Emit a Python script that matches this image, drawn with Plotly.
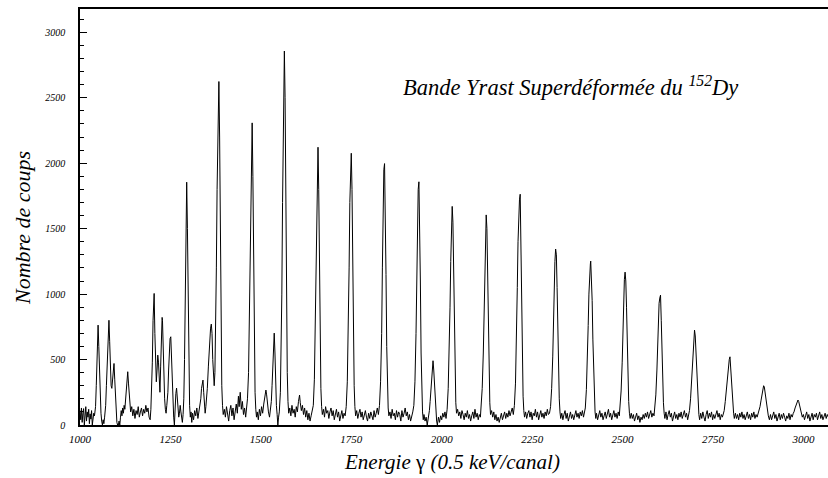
import plotly.graph_objects as go

# Spectrum: (channel, counts) pairs, by region
seg_1000_1285 = [
    (1000,110),(1002,40),(1004,130),(1006,20),(1008,90),(1010,125),(1012,0),(1014,70),(1016,140),(1018,30),
    (1020,100),(1022,60),(1024,120),(1026,10),(1028,85),(1030,45),(1032,110),(1034,0),(1036,60),(1038,90),
    (1040,70),(1043,140),(1045,300),(1047,520),(1049,700),(1050,763),(1052,600),(1054,380),(1056,200),(1058,90),
    (1060,30),(1062,0),(1064,40),(1066,10),(1068,60),(1071,150),(1073,300),(1075,480),(1077,650),(1079,780),
    (1080,800),(1082,640),(1084,400),(1086,300),(1088,280),(1090,360),(1092,430),(1094,470),(1096,350),(1098,200),
    (1100,90),(1102,20),(1104,0),(1106,0),(1108,30),(1110,0),(1112,60),(1114,110),(1116,70),(1118,130),
    (1120,90),(1122,150),(1124,120),(1126,180),(1128,260),(1130,350),(1132,407),(1134,320),(1136,220),(1138,150),
    (1140,100),(1143,140),(1146,70),(1149,120),(1152,50),(1155,110),(1158,80),(1161,140),(1164,60),(1167,100),
    (1170,130),(1173,70),(1176,120),(1179,90),(1182,150),(1185,100),(1188,130),(1191,60),(1194,40),(1196,120),
    (1198,250),(1200,480),(1202,800),(1204,980),(1205,1005),(1207,700),(1209,450),(1211,330),(1213,420),(1215,534),
    (1217,480),(1219,300),(1221,250),(1223,450),(1225,700),(1227,822),(1228,800),(1230,550),(1232,300),(1234,200),
    (1236,120),(1238,90),(1240,150),(1243,250),(1245,420),(1247,600),(1249,660),(1251,674),(1253,500),(1255,280),
    (1257,130),(1259,60),(1261,0),(1263,150),(1265,240),(1267,282),(1269,200),(1271,120),(1273,60),(1275,90),
    (1277,150),(1279,100),(1281,40),(1283,20),
]

seg_1285_1660 = [
    (1285,80),(1287,200),(1289,500),(1291,1000),(1293,1600),(1295,1855),(1297,1500),(1299,900),(1301,400),(1303,150),
    (1305,60),(1307,100),(1309,20),(1311,90),(1314,40),(1317,110),(1320,70),(1323,130),(1326,50),(1329,100),
    (1332,150),(1334,200),(1336,280),(1338,330),(1340,343),(1342,250),(1344,150),(1346,90),(1348,140),(1350,200),
    (1352,280),(1355,450),(1358,620),(1361,740),(1363,771),(1365,700),(1367,500),(1369,380),(1371,300),(1373,400),
    (1375,700),(1377,1200),(1379,1800),(1381,2300),(1383,2600),(1384,2624),(1386,2200),(1388,1400),(1390,700),(1392,300),
    (1394,150),(1396,80),(1399,120),(1402,60),(1405,140),(1408,90),(1411,30),(1414,110),(1417,150),(1420,70),
    (1423,130),(1426,40),(1429,100),(1432,160),(1435,90),(1438,220),(1440,140),(1443,250),(1446,120),(1449,180),
    (1452,80),(1455,130),(1458,60),(1460,120),(1463,200),(1466,400),(1468,800),(1470,1300),(1472,1900),(1474,2250),
    (1476,2308),(1478,1900),(1480,1200),(1482,600),(1484,250),(1486,120),(1488,60),(1490,100),(1493,40),(1496,120),
    (1499,70),(1502,140),(1505,90),(1508,160),(1511,200),(1514,267),(1516,230),(1518,150),(1521,100),(1524,60),
    (1527,130),(1529,180),(1531,300),(1533,450),(1535,620),(1537,702),(1539,550),(1541,300),(1543,150),(1545,80),
    (1547,0),(1549,60),(1551,100),(1554,250),(1556,500),(1558,1000),(1560,1700),(1562,2400),(1564,2800),(1565,2857),
    (1567,2500),(1569,1700),(1571,900),(1573,400),(1575,180),(1577,90),(1580,130),(1583,70),(1586,150),(1589,90),
    (1592,120),(1595,60),(1598,140),(1601,100),(1604,180),(1607,229),(1609,170),(1612,110),(1615,150),(1618,80),
    (1621,130),(1624,60),(1627,110),(1630,40),(1633,90),(1636,30),(1639,70),(1642,100),(1645,150),(1648,350),
    (1650,700),(1652,1200),(1654,1700),(1656,2050),(1658,2122),
]

seg_1660_2135 = [
    (1660,1800),(1662,1200),(1664,600),(1666,280),(1668,140),(1670,80),(1673,120),(1676,60),(1679,140),(1682,90),
    (1685,110),(1688,50),(1691,100),(1694,130),(1697,70),(1700,110),(1703,40),(1706,90),(1709,120),(1712,60),
    (1715,100),(1718,30),(1721,80),(1724,110),(1727,50),(1730,90),(1733,70),(1736,140),(1739,330),(1742,700),
    (1744,1200),(1746,1700),(1748,2000),(1750,2076),(1752,1800),(1754,1200),(1756,650),(1758,300),(1760,140),(1762,70),
    (1765,110),(1768,50),(1771,90),(1774,120),(1777,60),(1780,100),(1783,40),(1786,80),(1789,110),(1792,60),
    (1795,30),(1798,90),(1801,50),(1804,100),(1807,70),(1810,40),(1813,110),(1816,60),(1819,90),(1822,130),
    (1825,80),(1828,150),(1831,330),(1834,700),(1836,1200),(1838,1650),(1840,1950),(1842,1997),(1844,1700),(1846,1150),
    (1848,600),(1850,280),(1852,130),(1854,70),(1857,100),(1860,50),(1863,120),(1866,70),(1869,90),(1872,40),
    (1875,110),(1878,60),(1881,100),(1884,80),(1887,30),(1890,110),(1893,60),(1896,90),(1899,130),(1902,70),
    (1905,100),(1908,40),(1911,80),(1914,30),(1917,60),(1920,100),(1923,150),(1926,330),(1929,700),(1931,1150),
    (1933,1550),(1935,1800),(1937,1858),(1939,1600),(1941,1100),(1943,550),(1945,250),(1947,100),(1949,40),(1951,80),
    (1954,30),(1957,60),(1960,0),(1963,50),(1966,110),(1968,180),(1970,260),(1972,350),(1974,440),(1976,491),
    (1978,420),(1980,300),(1982,180),(1984,90),(1986,30),(1988,0),(1991,60),(1994,20),(1997,70),(2000,40),
    (2003,90),(2006,60),(2009,100),(2012,50),(2015,120),(2018,280),(2021,550),(2023,900),(2025,1250),(2027,1550),
    (2029,1670),(2031,1550),(2033,1150),(2035,700),(2037,350),(2039,170),(2041,90),(2044,120),(2047,70),(2050,100),
    (2053,50),(2056,110),(2059,80),(2062,40),(2065,90),(2068,60),(2071,110),(2074,50),(2077,80),(2080,30),
    (2083,70),(2086,100),(2089,50),(2092,120),(2095,60),(2098,90),(2101,40),(2104,80),(2107,60),(2109,130),
    (2112,280),(2115,550),(2117,900),(2119,1250),(2121,1520),(2123,1605),(2125,1500),(2127,1150),(2129,700),(2131,350),
    (2133,170),
]

seg_2135_2620 = [
    (2135,80),(2138,110),(2141,60),(2144,100),(2147,40),(2150,80),(2153,30),(2156,60),(2159,20),(2162,50),
    (2165,90),(2168,40),(2171,70),(2174,100),(2177,50),(2180,90),(2183,60),(2186,110),(2189,70),(2192,100),
    (2195,130),(2198,80),(2201,150),(2204,320),(2207,650),(2209,1050),(2211,1400),(2213,1650),(2215,1720),(2217,1763),
    (2219,1350),(2221,850),(2223,450),(2225,220),(2227,110),(2229,60),(2232,100),(2235,50),(2238,90),(2241,110),
    (2244,60),(2247,100),(2250,40),(2253,90),(2256,70),(2259,120),(2262,60),(2265,100),(2268,40),(2271,80),
    (2274,110),(2277,60),(2280,90),(2283,50),(2286,100),(2289,70),(2292,120),(2295,80),(2298,90),(2301,140),
    (2304,280),(2307,520),(2309,800),(2311,1050),(2313,1250),(2315,1344),(2317,1300),(2319,1050),(2321,700),(2323,400),
    (2325,200),(2327,100),(2329,50),(2332,90),(2335,40),(2338,80),(2341,110),(2344,50),(2347,90),(2350,30),
    (2353,70),(2356,100),(2359,50),(2362,80),(2365,40),(2368,90),(2371,110),(2374,60),(2377,90),(2380,50),
    (2383,100),(2386,70),(2389,110),(2392,60),(2395,90),(2397,130),(2400,270),(2403,500),(2405,760),(2407,1000),
    (2409,1180),(2411,1230),(2412,1252),(2414,1150),(2416,950),(2418,650),(2420,380),(2422,200),(2424,100),(2426,50),
    (2428,90),(2431,40),(2434,80),(2437,110),(2440,60),(2443,90),(2446,40),(2449,70),(2452,100),(2455,50),
    (2458,80),(2461,120),(2464,60),(2467,90),(2470,40),(2473,80),(2476,110),(2479,60),(2482,90),(2485,50),
    (2488,100),(2491,70),(2493,130),(2496,260),(2499,480),(2501,720),(2503,950),(2505,1110),(2507,1168),(2509,1100),
    (2511,900),(2513,620),(2515,350),(2517,180),(2519,90),(2521,50),(2524,90),(2527,50),(2530,80),(2533,30),
    (2536,60),(2539,90),(2542,40),(2545,70),(2548,20),(2551,60),(2554,40),(2557,80),(2560,50),(2563,90),
    (2566,60),(2569,100),(2572,50),(2575,80),(2578,110),(2581,60),(2584,90),(2587,70),(2589,120),(2592,230),
    (2595,420),(2597,620),(2599,800),(2601,930),(2603,970),(2605,992),(2607,800),(2609,560),(2611,320),(2613,170),
    (2615,90),(2617,50),
]

seg_2620_3069 = [
    (2620,100),(2623,40),(2626,80),(2629,110),(2632,60),(2635,90),(2638,30),(2641,70),(2644,100),(2647,50),
    (2650,80),(2653,40),(2656,90),(2659,60),(2662,100),(2665,50),(2668,80),(2671,110),(2674,60),(2677,90),
    (2680,40),(2683,80),(2685,110),(2688,200),(2691,340),(2693,480),(2695,610),(2697,700),(2699,725),(2701,680),
    (2703,560),(2705,400),(2707,250),(2709,140),(2711,80),(2713,40),(2716,90),(2719,50),(2722,100),(2725,60),
    (2728,30),(2731,80),(2734,110),(2737,50),(2740,90),(2743,60),(2746,100),(2749,40),(2752,80),(2755,50),
    (2758,90),(2761,110),(2764,60),(2767,90),(2770,40),(2773,80),(2776,60),(2779,100),(2781,110),(2784,180),
    (2787,270),(2789,360),(2791,440),(2793,480),(2795,500),(2797,521),(2799,420),(2801,320),(2803,220),(2805,140),
    (2807,90),(2809,50),(2812,90),(2815,50),(2818,80),(2821,40),(2824,90),(2827,60),(2830,100),(2833,50),
    (2836,80),(2839,40),(2842,70),(2845,100),(2848,50),(2851,80),(2854,40),(2857,90),(2860,60),(2863,100),
    (2866,50),(2869,80),(2872,60),(2875,90),(2877,100),(2880,140),(2883,190),(2886,240),(2888,280),(2890,300),
    (2892,290),(2894,250),(2896,200),(2898,150),(2900,110),(2903,70),(2906,40),(2909,80),(2912,40),(2915,70),
    (2918,100),(2921,50),(2924,80),(2927,30),(2930,70),(2933,90),(2936,40),(2939,80),(2942,50),(2945,90),
    (2948,60),(2951,30),(2954,70),(2957,50),(2960,90),(2963,40),(2966,80),(2969,60),(2972,90),(2974,100),
    (2977,130),(2980,160),(2983,180),(2985,191),(2987,180),(2989,150),(2991,120),(2994,90),(2997,60),(3000,80),
    (3003,40),(3006,70),(3009,100),(3012,50),(3015,80),(3018,30),(3021,70),(3024,90),(3027,40),(3030,80),
    (3033,60),(3036,90),(3039,40),(3042,70),(3045,100),(3048,50),(3051,80),(3054,40),(3057,70),(3060,90),
    (3063,50),(3066,80),(3069,60),
]

x_tick_values = [1000, 1250, 1500, 1750, 2000, 2250, 2500, 2750, 3000]
y_tick_values = [0, 500, 1000, 1500, 2000, 2500, 3000]

segments = [seg_1000_1285, seg_1285_1660, seg_1660_2135, seg_2135_2620, seg_2620_3069]
channels = [c for seg in segments for c, _ in seg]
counts = [n for seg in segments for _, n in seg]

SERIF = "Liberation Serif"

fig = go.Figure()
fig.add_trace(go.Scatter(
    x=channels, y=counts, mode="lines",
    line=dict(color="black", width=1),
    hoverinfo="skip", showlegend=False,
))

fig.update_layout(
    width=828, height=478,
    margin=dict(l=80, r=0, t=9, b=53),
    paper_bgcolor="white", plot_bgcolor="white",
    font=dict(family=SERIF, color="black"),
    xaxis=dict(
        range=[1000, 3068],
        tickvals=x_tick_values,
        ticktext=["<i>%d</i>" % v for v in x_tick_values],
        ticks="", showgrid=False, zeroline=False,
        showline=True, linecolor="black", linewidth=1.5, mirror=True,
        tickfont=dict(family=SERIF, size=11, color="black"),
        ticklabelstandoff=3,
    ),
    yaxis=dict(
        range=[0, 3178],
        tickvals=y_tick_values,
        ticktext=["<i>%d</i>" % v for v in y_tick_values],
        ticks="inside", ticklen=7, tickwidth=1, tickcolor="black",
        minor=dict(dtick=100, tick0=0, ticks="inside", ticklen=4, tickwidth=1, tickcolor="black", showgrid=False),
        showgrid=False, zeroline=False,
        showline=True, linecolor="black", linewidth=1.5, mirror=False,
        tickfont=dict(family=SERIF, size=10, color="black"),
        ticklabelstandoff=11,
    ),
    annotations=[
        dict(text="<i>Bande Yrast Superdéformée du <sup>152</sup>Dy</i>",
             xref="paper", yref="paper", x=(570 - 80) / 748, y=(425 - 86) / 416,
             xanchor="center", yanchor="middle", showarrow=False,
             font=dict(family=SERIF, size=22.5, color="black")),
        dict(text="<i>Nombre de coups</i>",
             xref="paper", yref="paper", x=(22 - 80) / 748, y=(425 - 228) / 416,
             xanchor="center", yanchor="middle", textangle=-90, showarrow=False,
             font=dict(family=SERIF, size=22, color="black")),
        dict(text="<i>Energie</i> γ <i>(0.5 keV/canal)</i>",
             xref="paper", yref="paper", x=(452 - 80) / 748, y=(425 - 462) / 416,
             xanchor="center", yanchor="middle", showarrow=False,
             font=dict(family=SERIF, size=21, color="black")),
    ],
)

fig.write_html("out.html")
